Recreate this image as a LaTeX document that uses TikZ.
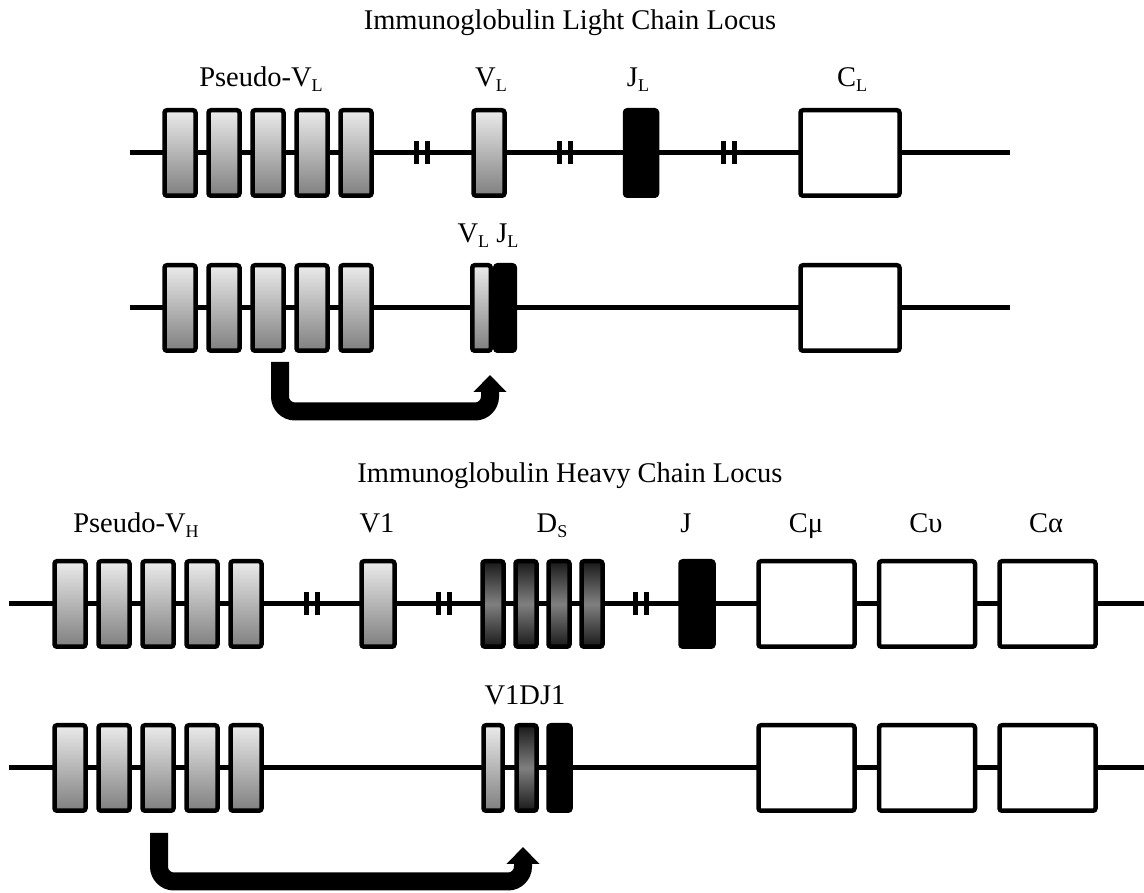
\documentclass[tikz,border=0pt]{standalone}
\usepackage{fontspec}
\setmainfont{Liberation Serif}
\usetikzlibrary{arrows.meta}
\newcommand{\lowsub}[1]{\raisebox{-5pt}{\fontsize{18}{18}\selectfont #1}}

\begin{document}
\begin{tikzpicture}[x=1pt,y=1pt,
  exon/.style={draw,line width=4.5pt,rounded corners=2.5pt,inner sep=0pt,minimum height=85.5pt},
  vseg/.style={exon,top color=black!8,bottom color=black!50},
  dseg/.style={exon,top color=black!90,bottom color=black!90,middle color=black!50},
  jseg/.style={exon,fill=black},
  cseg/.style={exon,fill=white},
  chrom/.style={line width=5pt},
  brk/.style={line width=5pt},
  lab/.style={anchor=base,font=\fontsize{28.5}{30}\selectfont},
  jump/.style={line width=18pt,rounded corners=15pt,-{Triangle[width=32pt,length=17pt]}}]

\useasboundingbox (0,0) rectangle (1144,893);

% light chain locus, germline
\node[lab] (ltitle) at (570,863) {Immunoglobulin Light Chain Locus};
\draw[chrom] (130,740) coordinate (l1w) -- (1010,740) coordinate (l1e);
\foreach \i in {0,...,4}
  \node[vseg,minimum width=31pt] (pl\i) at (180+44*\i,740) {};
\node[vseg,minimum width=31pt] (vl) at (489,740) {};
\node[jseg,minimum width=32pt] (jl) at (641,740) {};
\node[cseg,minimum width=99pt] (cl) at (850,740) {};
\foreach \x in {422,565,729} {
  \draw[brk] (\x-5.5,728.5) -- ++(0,23);
  \draw[brk] (\x+5.5,728.5) -- ++(0,23);
}
\node[lab] (lpl) at (261,806) {Pseudo-V\lowsub{L}};
\node[lab] (lvl) at (491,806) {V\lowsub{L}};
\node[lab] (ljl) at (638,806) {J\lowsub{L}};
\node[lab] (lcl) at (852,806) {C\lowsub{L}};

% light chain locus, rearranged
\draw[chrom] (130,585) coordinate (l2w) -- (1010,585) coordinate (l2e);
\foreach \i in {0,...,4}
  \node[vseg,minimum width=31pt] (pm\i) at (180+44*\i,585) {};
\node[vseg,minimum width=18.5pt] (vjv) at (481.5,585) {};
\node[jseg,minimum width=19.5pt] (vjj) at (505,585) {};
\node[cseg,minimum width=99pt] (cm) at (850,585) {};
\node[lab] (lvj) at (488,650) {V\lowsub{L} J\lowsub{L}};
\coordinate (lfrom) at (280,531);
\coordinate (lbend) at (280,481.5);
\coordinate (lto) at (490,518);
\draw[jump] (lfrom) -- (lbend) -| (lto);

% heavy chain locus, germline
\node[lab] (htitle) at (570,410) {Immunoglobulin Heavy Chain Locus};
\draw[chrom] (9,289) coordinate (h1w) -- (1144,289) coordinate (h1e);
\foreach \i in {0,...,4}
  \node[vseg,minimum width=31pt] (ph\i) at (70+44*\i,289) {};
\node[vseg,minimum width=33pt] (v1) at (378,289) {};
\foreach \i in {0,...,3}
  \node[dseg,minimum width=21pt] (d\i) at (493+33*\i,289) {};
\node[jseg,minimum width=33pt] (jh) at (697,289) {};
\foreach \x/\n in {806.5/cmu,927/cups,1047.5/calf}
  \node[cseg,minimum width=96pt] (\n) at (\x,289) {};
\foreach \x in {312,444,641} {
  \draw[brk] (\x-5.5,277.5) -- ++(0,23);
  \draw[brk] (\x+5.5,277.5) -- ++(0,23);
}
\node[lab] (lph) at (136,360) {Pseudo-V\lowsub{H}};
\node[lab] (lv1) at (377,360) {V1};
\node[lab] (lds) at (552,360) {D\lowsub{S}};
\node[lab] (ljh) at (686,360) {J};
\node[lab] (lcmu) at (806,360) {Cμ};
\node[lab] (lcups) at (926,360) {Cυ};
\node[lab] (lcalf) at (1046,360) {Cα};

% heavy chain locus, rearranged
\draw[chrom] (9,125) coordinate (h2w) -- (1144,125) coordinate (h2e);
\foreach \i in {0,...,4}
  \node[vseg,minimum width=31pt] (pr\i) at (70+44*\i,125) {};
\node[vseg,minimum width=19pt] (vdjv) at (493,125) {};
\node[dseg,minimum width=20pt] (vdjd) at (526.5,125) {};
\node[jseg,minimum width=22pt] (vdjj) at (559.5,125) {};
\foreach \x/\n in {806.5/rmu,927/rups,1047.5/ralf}
  \node[cseg,minimum width=96pt] (\n) at (\x,125) {};
\node[lab] (lvdj) at (525,188) {V1DJ1};
\coordinate (hfrom) at (159,60);
\coordinate (hbend) at (159,11.5);
\coordinate (hto) at (523,46);
\draw[jump] (hfrom) -- (hbend) -| (hto);
\end{tikzpicture}
\end{document}
